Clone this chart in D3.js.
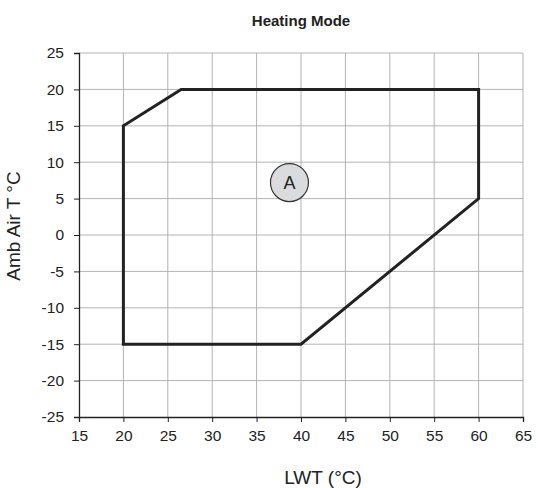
<!DOCTYPE html>
<html>
<head>
<meta charset="utf-8">
<script src="https://cdn.jsdelivr.net/npm/d3@7"></script>
<style>
  body { margin: 0; background: #fff; }
  text { font-family: "Liberation Sans", Arial, sans-serif; fill: #222; }
</style>
</head>
<body>
<div id="chart"></div>
<script>
// envelope corners (LWT °C, ambient °C)
const envelopeLwt = [20, 20, 26.5, 60, 60, 40];
const envelopeAmb = [-15, 15, 20, 20, 5, -15];
const xTicks = [15, 20, 25, 30, 35, 40, 45, 50, 55, 60, 65];
const yTicks = [-25, -20, -15, -10, -5, 0, 5, 10, 15, 20, 25];
const zoneLabel = { lwt: 38.7, amb: 7.2, text: "A" };

const width = 538, height = 488;
const margin = { top: 53, right: 15, bottom: 71, left: 79 };

const svg = d3.select("#chart").append("svg")
    .attr("width", width)
    .attr("height", height);

const x = d3.scaleLinear().domain([15, 65]).range([margin.left, width - margin.right]);
const y = d3.scaleLinear().domain([-25, 25]).range([height - margin.bottom, margin.top]);

// grid
svg.append("g").selectAll("line")
    .data(xTicks.slice(1))
    .join("line")
    .attr("x1", d => x(d)).attr("x2", d => x(d))
    .attr("y1", y(-25)).attr("y2", y(25))
    .attr("stroke", "#b3b3b3").attr("stroke-width", 1);

svg.append("g").selectAll("line")
    .data(yTicks.slice(1))
    .join("line")
    .attr("x1", x(15)).attr("x2", x(65))
    .attr("y1", d => y(d)).attr("y2", d => y(d))
    .attr("stroke", "#b3b3b3").attr("stroke-width", 1);

// axes (plain hyphen for negatives, like the original)
const fmt = d => String(d);
const xAxis = svg.append("g")
    .attr("transform", `translate(0,${y(-25)})`)
    .call(d3.axisBottom(x).tickValues(xTicks).tickFormat(fmt).tickSize(5).tickPadding(8));
const yAxis = svg.append("g")
    .attr("transform", `translate(${x(15)},0)`)
    .call(d3.axisLeft(y).tickValues(yTicks).tickFormat(fmt).tickSize(5).tickPadding(10));

[xAxis, yAxis].forEach(a => {
    a.select(".domain").attr("stroke", "#222").attr("stroke-width", 1.3);
    a.selectAll(".tick line").attr("stroke", "#222");
    a.selectAll(".tick text").attr("font-size", 15.5).attr("fill", "#222")
        .style("font-family", "'Liberation Sans', Arial, sans-serif");
});

// envelope
const pts = envelopeLwt.map((v, i) => [x(v), y(envelopeAmb[i])]);
svg.append("path")
    .attr("d", d3.line()(pts) + "Z")
    .attr("fill", "none")
    .attr("stroke", "#222")
    .attr("stroke-width", 3)
    .attr("stroke-linejoin", "miter");

// zone marker
svg.append("circle")
    .attr("cx", x(zoneLabel.lwt)).attr("cy", y(zoneLabel.amb))
    .attr("r", 19)
    .attr("fill", "#dadbdc")
    .attr("stroke", "#333").attr("stroke-width", 1.2);
svg.append("text")
    .attr("x", x(zoneLabel.lwt)).attr("y", y(zoneLabel.amb))
    .attr("dy", "0.36em")
    .attr("text-anchor", "middle")
    .attr("font-size", 18)
    .text(zoneLabel.text);

// titles
svg.append("text")
    .attr("x", (x(15) + x(65)) / 2).attr("y", 26)
    .attr("text-anchor", "middle")
    .attr("font-size", 15).attr("font-weight", "bold")
    .text("Heating Mode");

svg.append("text")
    .attr("x", 323).attr("y", 484)
    .attr("text-anchor", "middle")
    .attr("font-size", 19)
    .text("LWT (°C)");

svg.append("text")
    .attr("transform", `translate(20,226) rotate(-90)`)
    .attr("text-anchor", "middle")
    .attr("font-size", 19)
    .text("Amb Air T °C");
</script>
</body>
</html>
